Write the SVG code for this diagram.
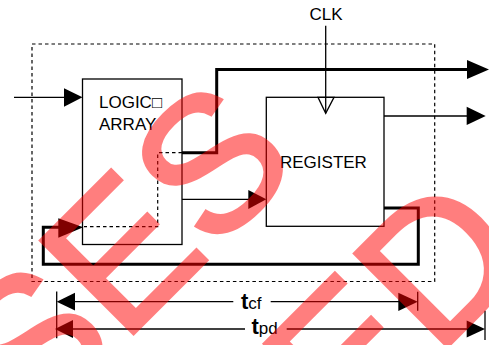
<svg xmlns="http://www.w3.org/2000/svg" width="489" height="345" viewBox="0 0 489 345">
<style>
.thin{fill:none;stroke:#000;stroke-width:1.3}
.bold{fill:none;stroke:#000;stroke-width:3}
.dash{fill:none;stroke:#000;stroke-width:1.2;stroke-dasharray:3.5 3}
.ah{fill:#000;stroke:none}
.lbl{font-family:"Liberation Sans",Arial,sans-serif;font-size:17px;fill:#000}
.wm{font-family:"Liberation Sans",Arial,sans-serif;font-size:191px;fill:#f00;stroke:#f00;stroke-width:3.5}
</style>
<rect width="489" height="345" fill="#fff"/>
<g id="boundary">
<rect class="dash" x="32" y="44" width="402.7" height="237.5"/>
</g>
<g id="logic-array">
<rect class="thin" x="82.5" y="79" width="99.5" height="165.5"/>
<text class="lbl" x="99" y="108">LOGIC□</text>
<text class="lbl" x="99" y="130">ARRAY</text>
</g>
<g id="register">
<rect class="thin" x="266.3" y="97.3" width="117.7" height="129"/>
<polygon class="thin" points="318,97.3 334,97.3 325.7,113.3"/>
<text class="lbl" x="280" y="167.5">REGISTER</text>
</g>
<g id="clk">
<text class="lbl" x="326" y="20" text-anchor="middle">CLK</text>
</g>
<g id="connectors">
<line class="thin" x1="325.7" y1="25.7" x2="325.7" y2="113.3"/>
<line class="thin" x1="14" y1="97.3" x2="66" y2="97.3"/>
<polygon class="ah" points="64,88.3 82.5,97.3 64,106.7"/>
<polyline class="bold" points="182,152.7 216.7,152.7 216.7,69.5 468,69.5"/>
<polygon class="ah" points="467,60 489,69.5 467,79"/>
<line class="thin" x1="384" y1="116" x2="468" y2="116"/>
<polygon class="ah" points="466.7,106.7 485.7,116 466.7,125"/>
<line class="thin" x1="182" y1="199.3" x2="250" y2="199.3"/>
<polygon class="ah" points="248.3,190 266.3,199.3 248.3,209"/>
<polyline class="dash" points="182,152.7 157.7,152.7 157.7,226.7 84,226.7"/>
<polyline class="bold" points="384,208 418.3,208 418.3,264.3 43.3,264.3 43.3,227.3 60,227.3"/>
<polygon class="ah" points="58.3,218.3 83.3,227.3 58.3,237.7"/>
</g>
<g id="dimensions">
<line class="thin" x1="56.7" y1="291.5" x2="56.7" y2="338.3"/>
<line class="thin" x1="417.7" y1="291.7" x2="417.7" y2="310.7"/>
<line class="thin" x1="485" y1="310.7" x2="485" y2="340"/>
<line class="thin" x1="73" y1="301.7" x2="233.3" y2="301.7"/>
<line class="thin" x1="270.7" y1="301.7" x2="400" y2="301.7"/>
<polygon class="ah" points="56.7,301.7 75,292.8 75,310.6"/>
<polygon class="ah" points="417.7,301.7 398.3,292.7 398.3,311"/>
<line class="thin" x1="70" y1="329" x2="245" y2="329"/>
<line class="thin" x1="286.7" y1="329" x2="468" y2="329"/>
<polygon class="ah" points="55,329 73,320 73,338"/>
<polygon class="ah" points="485,329 466.7,320.5 466.7,337.5"/>
<text class="lbl" x="241" y="309"><tspan font-weight="bold" font-size="22">t</tspan><tspan>cf</tspan></text>
<text class="lbl" x="251.5" y="334"><tspan font-weight="bold" font-size="22">t</tspan><tspan>pd</tspan></text>
</g>
<g id="watermark" opacity="0.5">
<text class="wm" transform="translate(32.3,434.7) rotate(-45)">SES</text>
<text class="wm" transform="translate(346.3,447.7) rotate(-45)">ED</text>
</g>
</svg>
